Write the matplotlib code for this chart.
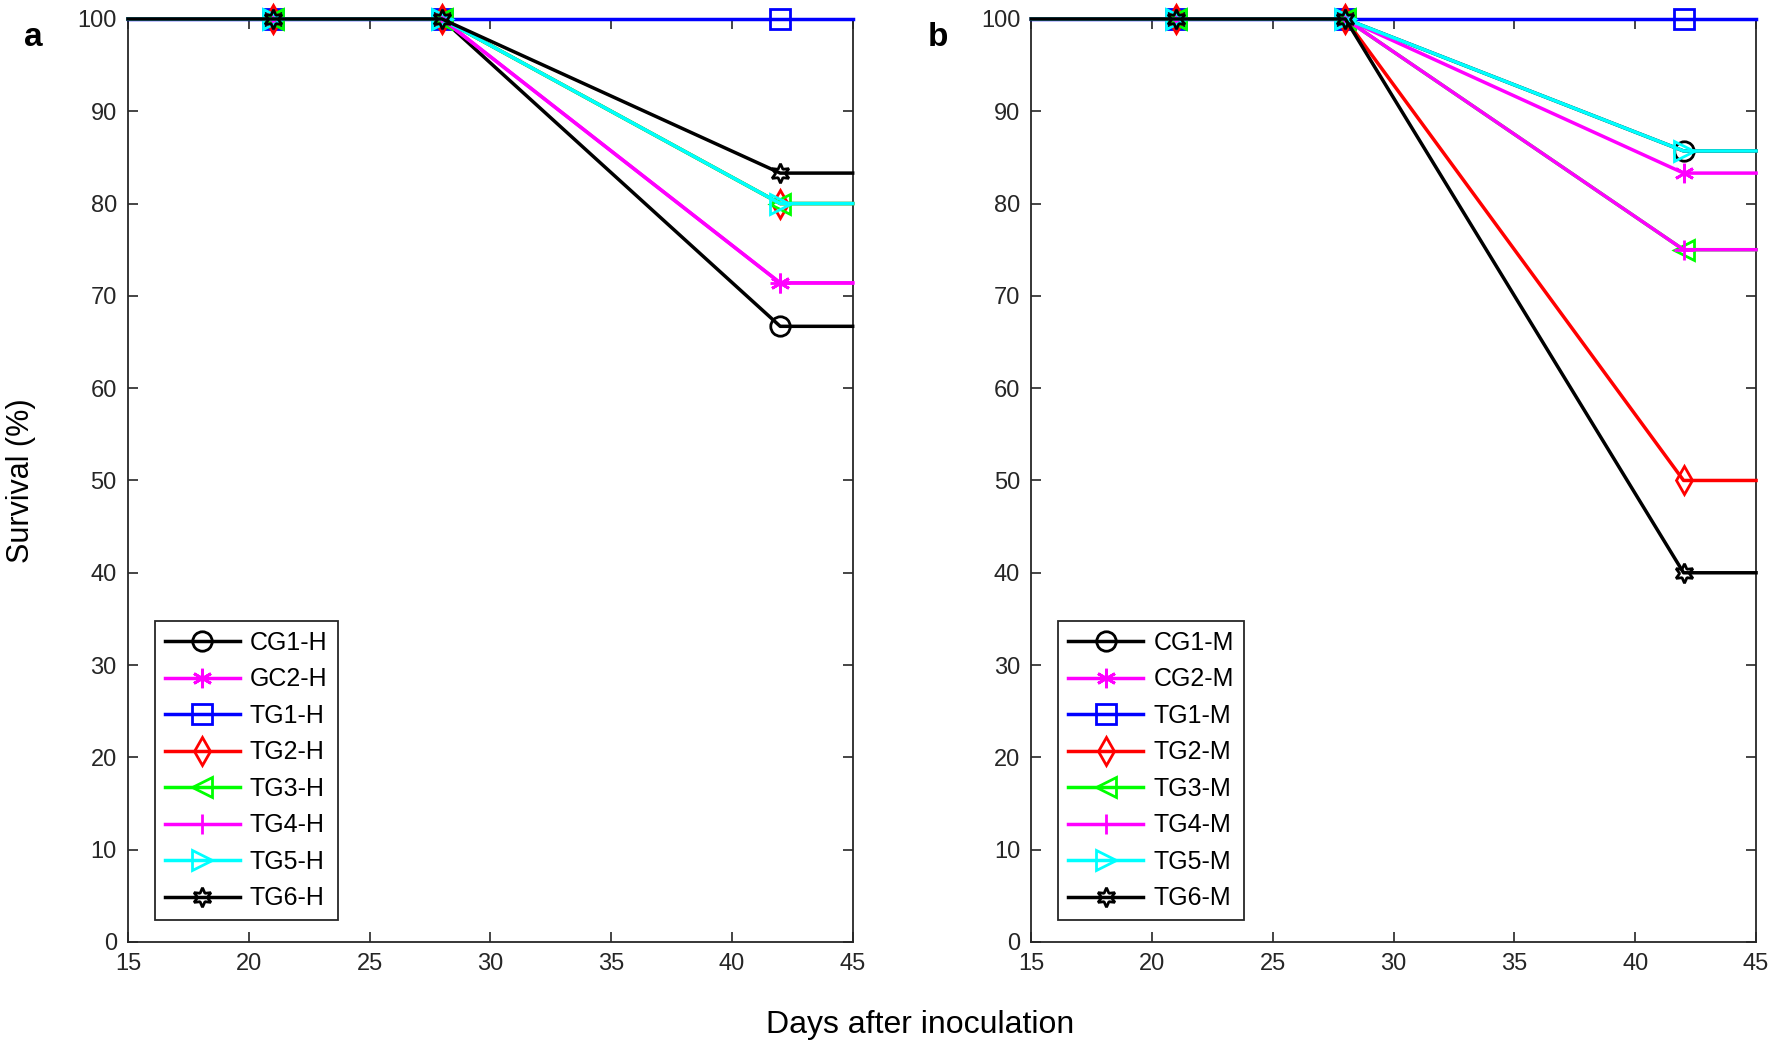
import numpy as np
import matplotlib
matplotlib.use('Agg')
import matplotlib.pyplot as plt

plt.rcParams['font.family'] = ['Liberation Sans', 'DejaVu Sans']

# ================================================================
# Data
# ================================================================

days = [15, 21, 28, 42, 45]

labels_h = ['CG1-H', 'GC2-H', 'TG1-H', 'TG2-H', 'TG3-H', 'TG4-H', 'TG5-H', 'TG6-H']
labels_m = ['CG1-M', 'CG2-M', 'TG1-M', 'TG2-M', 'TG3-M', 'TG4-M', 'TG5-M', 'TG6-M']

# survival at day 42 (flat at 100 before, constant after)
final_h = [66.7, 71.4, 100, 80, 80, 71.4, 80, 83.3]
final_m = [85.7, 83.3, 100, 50, 75, 75, 85.7, 40]

colors = ['#000000', '#FF00FF', '#0000FF', '#FF0000', '#00FF00', '#FF00FF', '#00FFFF', '#000000']
markers = ['o', (6, 2, 0), 's', 'd', '<', '+', '>', (6, 1, 0)]

AX_COLOR = '#262626'


def series(final):
    return [100, 100, 100, final, final]


def draw_panel(ax, labels, finals, letter):
    for lab, fin, c, m in zip(labels, finals, colors, markers):
        ax.plot(days, series(fin), color=c, linewidth=2.5, marker=m,
                markersize=14, markerfacecolor='none', markeredgecolor=c,
                markeredgewidth=2, markevery=[1, 2, 3], label=lab,
                clip_on=False, zorder=3)

    ax.set_xlim(15, 45)
    ax.set_ylim(0, 100)
    ax.set_xticks(np.arange(15, 46, 5))
    ax.set_yticks(np.arange(0, 101, 10))
    ax.tick_params(direction='in', top=True, right=True, length=7,
                   width=1.2, labelsize=17, colors=AX_COLOR, pad=8)
    for sp in ax.spines.values():
        sp.set_color(AX_COLOR)
        sp.set_linewidth(1.3)

    leg = ax.legend(loc='lower left', bbox_to_anchor=(0.02, 0.01),
                    fontsize=18, handlelength=3.0, handletextpad=0.4,
                    labelspacing=0.5, borderpad=0.4, fancybox=False,
                    framealpha=1, edgecolor=AX_COLOR)
    leg.get_frame().set_linewidth(1.3)

    ax.text(-0.143, 0.98, letter, transform=ax.transAxes, fontsize=24,
            fontweight='bold', ha='left', va='center')


fig = plt.figure(figsize=(17.72, 10.47), dpi=100)
ax_a = fig.add_axes([0.0722, 0.1003, 0.409, 0.8816])
ax_b = fig.add_axes([0.582, 0.1003, 0.409, 0.8816])

draw_panel(ax_a, labels_h, final_h, 'a')
draw_panel(ax_b, labels_m, final_m, 'b')

ax_a.set_ylabel('Survival (%)', fontsize=22, labelpad=30)
fig.text(0.519, 0.021, 'Days after inoculation', fontsize=23,
         ha='center', va='center')

fig.savefig('out.png', dpi=100)
